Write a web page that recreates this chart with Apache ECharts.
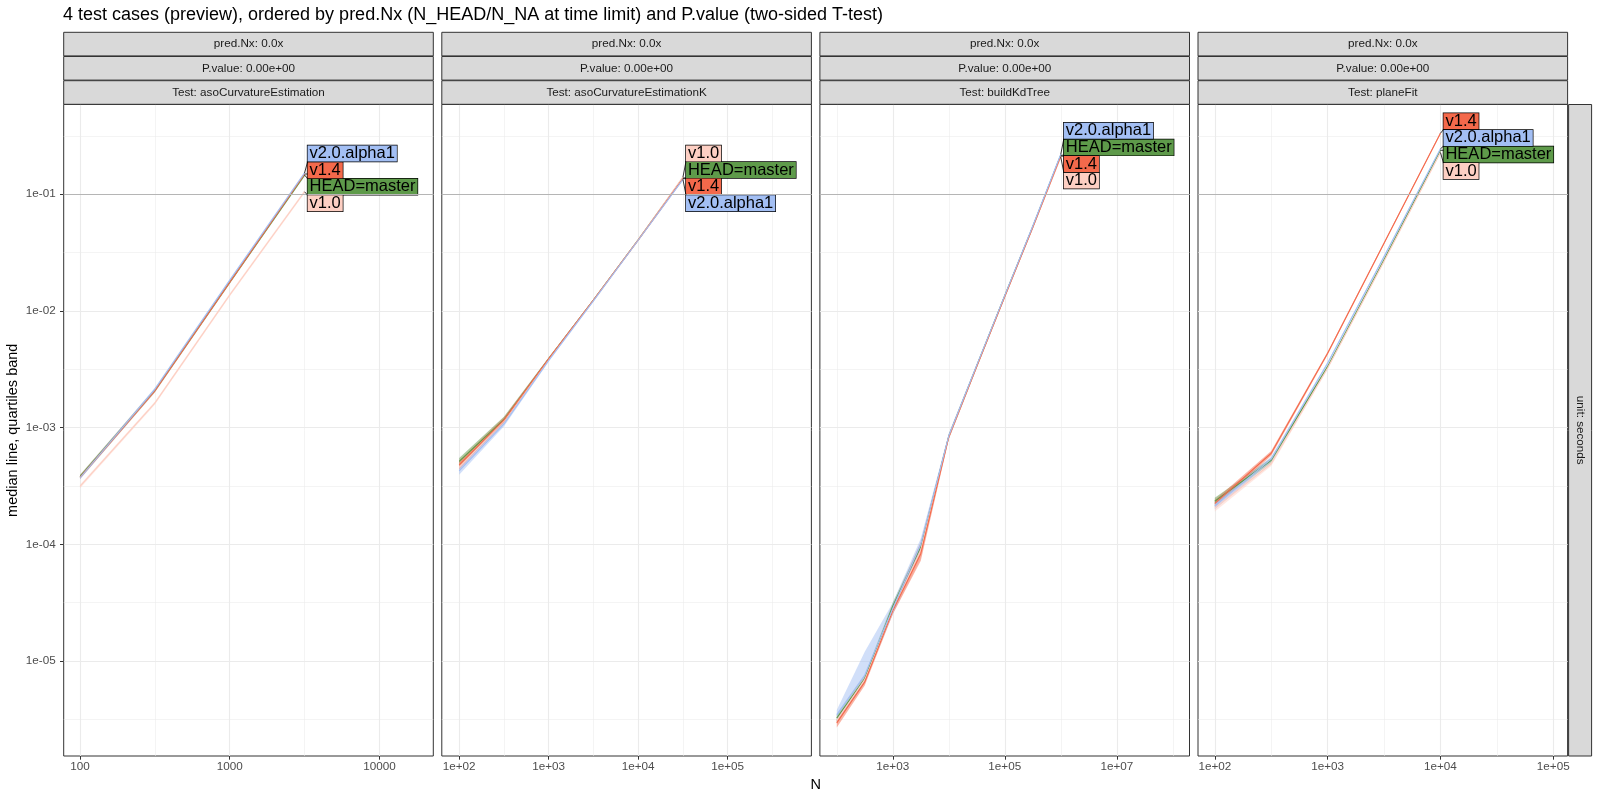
<!DOCTYPE html>
<html>
<head>
<meta charset="utf-8">
<title>benchmark preview</title>
<script src="https://cdn.jsdelivr.net/npm/echarts@6/dist/echarts.min.js"></script>
<style>
  html, body { margin: 0; padding: 0; background: #fff; }
  #chart { width: 1600px; height: 800px; }
</style>
</head>
<body>
<div id="chart"></div>
<script>
// ---- data ----------------------------------------------------------------
var versions = ["HEAD=master", "v1.0", "v1.4", "v2.0.alpha1"];
var versionColors = ["#5e9a4a", "#fdcfc3", "#f4694b", "#a3bff4"];
var tests = ["asoCurvatureEstimation", "asoCurvatureEstimationK", "buildKdTree", "planeFit"];

// rows follow `versions`; values are seconds
var asoN = [100, 316, 1000, 3162];
var asoMed = [
    [3.80e-4, 2.08e-3, 1.76e-2, 0.146],
    [3.13e-4, 1.62e-3, 1.37e-2, 0.105],
    [3.75e-4, 2.07e-3, 1.76e-2, 0.149],
    [3.72e-4, 2.13e-3, 1.83e-2, 0.152]
];
var asoLo = [
    [3.65e-4, 2.01e-3, 1.71e-2, 0.142],
    [3.02e-4, 1.57e-3, 1.33e-2, 0.102],
    [3.62e-4, 2.00e-3, 1.71e-2, 0.145],
    [3.59e-4, 2.06e-3, 1.78e-2, 0.148]
];
var asoHi = [
    [3.95e-4, 2.15e-3, 1.81e-2, 0.150],
    [3.24e-4, 1.67e-3, 1.41e-2, 0.108],
    [3.88e-4, 2.14e-3, 1.81e-2, 0.153],
    [3.85e-4, 2.20e-3, 1.88e-2, 0.156]
];

var asoKN = [100, 316, 1000, 3162, 10000, 31623];
var asoKMed = [
    [5.13e-4, 1.170e-3, 3.89e-3, 1.24e-2, 4.07e-2, 0.138],
    [4.57e-4, 1.135e-3, 3.85e-3, 1.23e-2, 4.06e-2, 0.140],
    [4.79e-4, 1.160e-3, 3.89e-3, 1.24e-2, 4.05e-2, 0.136],
    [4.27e-4, 1.070e-3, 3.76e-3, 1.22e-2, 4.03e-2, 0.134]
];
var asoKLo = [
    [4.70e-4, 1.10e-3, 3.80e-3, 1.22e-2, 4.00e-2, 0.135],
    [4.20e-4, 1.08e-3, 3.76e-3, 1.21e-2, 3.99e-2, 0.137],
    [4.40e-4, 1.10e-3, 3.80e-3, 1.22e-2, 3.98e-2, 0.133],
    [3.95e-4, 1.02e-3, 3.67e-3, 1.20e-2, 3.96e-2, 0.131]
];
var asoKHi = [
    [5.50e-4, 1.24e-3, 3.98e-3, 1.26e-2, 4.14e-2, 0.141],
    [4.95e-4, 1.19e-3, 3.94e-3, 1.25e-2, 4.13e-2, 0.143],
    [5.20e-4, 1.22e-3, 3.98e-3, 1.26e-2, 4.12e-2, 0.139],
    [4.60e-4, 1.12e-3, 3.85e-3, 1.24e-2, 4.10e-2, 0.137]
];

var kdN = [100, 316, 1000, 3162, 10000, 31623, 100000, 316228, 1000000];
var kdMed = [
    [3.24e-6, 7.08e-6, 2.95e-5, 9.55e-5, 8.41e-4, 3.39e-3, 1.35e-2, 5.27e-2, 0.216],
    [3.09e-6, 6.92e-6, 2.69e-5, 8.91e-5, 8.32e-4, 3.35e-3, 1.33e-2, 5.19e-2, 0.208],
    [2.95e-6, 6.61e-6, 2.69e-5, 8.32e-5, 8.32e-4, 3.35e-3, 1.33e-2, 5.21e-2, 0.212],
    [3.47e-6, 7.59e-6, 2.82e-5, 1.00e-4, 8.51e-4, 3.43e-3, 1.36e-2, 5.35e-2, 0.220]
];
var kdLo = [
    [3.02e-6, 6.61e-6, 2.75e-5, 8.91e-5, 8.04e-4, 3.28e-3, 1.31e-2, 5.12e-2, 0.210],
    [2.88e-6, 6.46e-6, 2.51e-5, 7.59e-5, 7.94e-4, 3.24e-3, 1.29e-2, 5.04e-2, 0.202],
    [2.69e-6, 6.17e-6, 2.51e-5, 7.24e-5, 7.94e-4, 3.24e-3, 1.29e-2, 5.06e-2, 0.206],
    [3.02e-6, 6.76e-6, 2.51e-5, 8.91e-5, 8.13e-4, 3.31e-3, 1.32e-2, 5.20e-2, 0.214]
];
var kdHi = [
    [3.47e-6, 7.59e-6, 3.16e-5, 1.02e-4, 8.80e-4, 3.50e-3, 1.39e-2, 5.42e-2, 0.222],
    [3.31e-6, 7.41e-6, 2.88e-5, 1.00e-4, 8.71e-4, 3.46e-3, 1.37e-2, 5.34e-2, 0.214],
    [3.16e-6, 7.24e-6, 2.95e-5, 1.05e-4, 8.71e-4, 3.46e-3, 1.37e-2, 5.36e-2, 0.218],
    [3.80e-6, 1.20e-5, 3.16e-5, 1.12e-4, 8.91e-4, 3.55e-3, 1.40e-2, 5.50e-2, 0.226]
];

var planeN = [100, 316, 1000, 3162, 10000];
var planeMed = [
    [2.34e-4, 5.25e-4, 3.33e-3, 2.74e-2, 0.238],
    [2.04e-4, 4.90e-4, 3.24e-3, 2.66e-2, 0.228],
    [2.24e-4, 6.03e-4, 4.34e-3, 3.80e-2, 0.333],
    [2.14e-4, 5.37e-4, 3.56e-3, 2.92e-2, 0.245]
];
var planeLo = [
    [2.19e-4, 4.98e-4, 3.24e-3, 2.68e-2, 0.233],
    [1.91e-4, 4.68e-4, 3.15e-3, 2.60e-2, 0.223],
    [2.09e-4, 5.75e-4, 4.22e-3, 3.72e-2, 0.327],
    [2.00e-4, 5.10e-4, 3.46e-3, 2.85e-2, 0.240]
];
var planeHi = [
    [2.51e-4, 5.50e-4, 3.42e-3, 2.80e-2, 0.243],
    [2.19e-4, 5.13e-4, 3.33e-3, 2.72e-2, 0.233],
    [2.40e-4, 6.31e-4, 4.47e-3, 3.89e-2, 0.340],
    [2.29e-4, 5.62e-4, 3.66e-3, 2.99e-2, 0.250]
];

// tick marks (N) and their labels
var asoTicks = [100, 1000, 10000];
var asoTickLabels = ["100", "1000", "10000"];
var asoMinor = [316.23, 3162.3];
var asoKTicks = [1e2, 1e3, 1e4, 1e5];
var asoKTickLabels = ["1e+02", "1e+03", "1e+04", "1e+05"];
var asoKMinor = [316.23, 3162.3, 31623, 316228];
var kdTicks = [1e3, 1e5, 1e7];
var kdTickLabels = ["1e+03", "1e+05", "1e+07"];
var kdMinor = [1e2, 1e4, 1e6, 1e8];
var planeTicks = [1e2, 1e3, 1e4, 1e5];
var planeTickLabels = ["1e+02", "1e+03", "1e+04", "1e+05"];
var planeMinor = [316.23, 3162.3, 31623];

var yTicks = [1e-5, 1e-4, 1e-3, 1e-2, 1e-1];
var yTickLabels = ["1e-05", "1e-04", "1e-03", "1e-02", "1e-01"];
var yMinor = [3.1623e-6, 3.1623e-5, 3.1623e-4, 3.1623e-3, 3.1623e-2, 0.31623];
var timeLimit = 0.1;

// ---- layout ----------------------------------------------------------------
var FONT = '"Liberation Sans", Arial, Helvetica, sans-serif';
var panelLeft = [63.7, 441.8, 819.9, 1198.0];
var panelW = 369.6;
var plotTop = 104.5;
var plotH = 651.5;
var stripTops = [32.3, 56.5, 80.7];
var stripH = 23.6;
var xRanges = [[1.891, 4.36], [1.806, 5.935], [1.699, 8.298], [1.851, 5.127]];
var yRange = [-5.814, -0.231];
var LABEL_STEP = 16.6;

var lg = Math.log10;

var panels = [
    { n: asoN, med: asoMed, lo: asoLo, hi: asoHi, ticks: asoTicks, labels: asoTickLabels, minor: asoMinor },
    { n: asoKN, med: asoKMed, lo: asoKLo, hi: asoKHi, ticks: asoKTicks, labels: asoKTickLabels, minor: asoKMinor },
    { n: kdN, med: kdMed, lo: kdLo, hi: kdHi, ticks: kdTicks, labels: kdTickLabels, minor: kdMinor },
    { n: planeN, med: planeMed, lo: planeLo, hi: planeHi, ticks: planeTicks, labels: planeTickLabels, minor: planeMinor }
];

function labelFor(values, labels) {
    return function (v) {
        for (var k = 0; k < values.length; k++) {
            if (Math.abs(lg(values[k]) - v) < 1e-6) return labels[k];
        }
        return "";
    };
}

// polygon between lo and hi for one version, drawn once per series
function bandRenderer(color) {
    return function (params, api) {
        if (params.dataIndex !== 0) return;
        var n = params.dataInsideLength, top = [], bottom = [];
        for (var k = 0; k < n; k++) {
            var x = api.value(0, k);
            top.push(api.coord([x, api.value(2, k)]));
            bottom.unshift(api.coord([x, api.value(1, k)]));
        }
        return {
            type: "polygon",
            shape: { points: top.concat(bottom) },
            style: { fill: color, opacity: 0.5 },
            silent: true
        };
    };
}

var chart = echarts.init(document.getElementById("chart"));

var grids = [], xAxes = [], yAxes = [], series = [], lineIdx = [];

panels.forEach(function (p, i) {
    grids.push({
        left: panelLeft[i], top: plotTop, width: panelW, height: plotH,
        show: true, borderColor: "#333333", borderWidth: 1, backgroundColor: "rgba(0,0,0,0)"
    });
    var tx = p.ticks.map(lg), mx = p.minor.map(lg);
    xAxes.push({
        type: "value", gridIndex: i, min: xRanges[i][0], max: xRanges[i][1],
        axisLine: { show: false },
        axisTick: { show: true, customValues: tx, length: 3.7, lineStyle: { color: "#333333", width: 1 } },
        axisLabel: {
            show: true, customValues: tx, formatter: labelFor(p.ticks, p.labels),
            color: "#4d4d4d", fontSize: 11.7, fontFamily: FONT, margin: 5
        },
        splitLine: { show: true, lineStyle: { color: "#ebebeb", width: 1.1 } }
    });
    xAxes.push({
        type: "value", gridIndex: i, min: xRanges[i][0], max: xRanges[i][1],
        axisLine: { show: false },
        axisTick: { show: false, customValues: mx },
        axisLabel: { show: false },
        splitLine: { show: true, lineStyle: { color: "#ebebeb", width: 0.55 } }
    });
    var ty = yTicks.map(lg), my = yMinor.map(lg);
    yAxes.push({
        type: "value", gridIndex: i, min: yRange[0], max: yRange[1],
        axisLine: { show: false },
        axisTick: { show: i === 0, customValues: ty, length: 3.7, lineStyle: { color: "#333333", width: 1 } },
        axisLabel: {
            show: i === 0, customValues: ty, formatter: labelFor(yTicks, yTickLabels),
            color: "#4d4d4d", fontSize: 11.7, fontFamily: FONT, margin: 8
        },
        splitLine: { show: true, lineStyle: { color: "#ebebeb", width: 1.1 } }
    });
    yAxes.push({
        type: "value", gridIndex: i, min: yRange[0], max: yRange[1],
        axisLine: { show: false },
        axisTick: { show: false, customValues: my },
        axisLabel: { show: false },
        splitLine: { show: true, lineStyle: { color: "#ebebeb", width: 0.55 } }
    });

    // quartile bands
    versions.forEach(function (ver, v) {
        var s = {
            type: "custom", xAxisIndex: 2 * i, yAxisIndex: 2 * i,
            data: p.n.map(function (n, k) { return [lg(n), lg(p.lo[v][k]), lg(p.hi[v][k])]; }),
            encode: { x: 0, y: [1, 2] },
            renderItem: bandRenderer(versionColors[v]),
            silent: true, animation: false, z: 2
        };
        if (v === 0) {
            s.markLine = {
                silent: true, symbol: "none", animation: false,
                label: { show: false },
                lineStyle: { color: "#b5b5b5", width: 1.2, type: "solid" },
                data: [{ yAxis: lg(timeLimit) }]
            };
        }
        series.push(s);
    });

    // median lines
    lineIdx.push([]);
    versions.forEach(function (ver, v) {
        lineIdx[i].push(series.length);
        series.push({
            type: "line", xAxisIndex: 2 * i, yAxisIndex: 2 * i,
            data: p.n.map(function (n, k) { return [lg(n), lg(p.med[v][k])]; }),
            symbol: "none", silent: true, animation: false, z: 3,
            lineStyle: { color: versionColors[v], width: 1.1 },
            endLabel: {
                show: true, formatter: ver, color: "#000", fontSize: 16.5, fontFamily: FONT,
                backgroundColor: versionColors[v], borderColor: "#000", borderWidth: 0.7,
                padding: [1, 2, 0, 2], lineHeight: 15, distance: 3, offset: [0, 0]
            }
        });
    });
});

chart.setOption({
    animation: false,
    backgroundColor: "#ffffff",
    title: {
        text: "4 test cases (preview), ordered by pred.Nx (N_HEAD/N_NA at time limit) and P.value (two-sided T-test)",
        left: 63, top: 5, padding: 0,
        textStyle: { color: "#000", fontWeight: "normal", fontSize: 18, fontFamily: FONT, lineHeight: 20 }
    },
    grid: grids,
    xAxis: xAxes,
    yAxis: yAxes,
    series: series
});

// ---- repelled labels, strips and axis titles ---------------------------------
var graphics = [];
panels.forEach(function (p, i) {
    var last = p.n.length - 1;
    var ends = versions.map(function (ver, v) {
        var pt = chart.convertToPixel({ seriesIndex: lineIdx[i][v] }, [lg(p.n[last]), lg(p.med[v][last])]);
        return { v: v, x: pt[0], y: pt[1], val: p.med[v][last] };
    });
    var meanY = ends.reduce(function (a, e) { return a + e.y; }, 0) / ends.length;
    ends.slice().sort(function (a, b) { return b.val - a.val; }).forEach(function (e, r) {
        var cy = meanY + (r - 1.5) * LABEL_STEP;
        series[lineIdx[i][e.v]].endLabel.offset = [0, cy - e.y];
        var ty = Math.max(cy - LABEL_STEP / 2, Math.min(cy + LABEL_STEP / 2, e.y));
        graphics.push({
            type: "line", z: 100, silent: true,
            shape: { x1: e.x, y1: e.y, x2: e.x + 3, y2: ty },
            style: { stroke: "#000", lineWidth: 0.8 }
        });
    });

    var stripTexts = ["pred.Nx: 0.0x", "P.value: 0.00e+00", "Test: " + tests[i]];
    stripTexts.forEach(function (t, k) {
        graphics.push({
            type: "rect", silent: true,
            shape: { x: panelLeft[i], y: stripTops[k], width: panelW, height: stripH },
            style: { fill: "#d9d9d9", stroke: "#333333", lineWidth: 1 }
        });
        graphics.push({
            type: "text", silent: true,
            x: panelLeft[i] + panelW / 2, y: stripTops[k] + stripH / 2,
            style: { text: t, fill: "#1a1a1a", fontSize: 11.7, fontFamily: FONT, align: "center", verticalAlign: "middle" }
        });
    });
});

// right strip
var rsX = panelLeft[3] + panelW + 1;
graphics.push({
    type: "rect", silent: true,
    shape: { x: rsX, y: plotTop, width: 23, height: plotH },
    style: { fill: "#d9d9d9", stroke: "#333333", lineWidth: 1 }
});
graphics.push({
    type: "text", silent: true,
    x: rsX + 11.5, y: plotTop + plotH / 2, rotation: -Math.PI / 2,
    style: { text: "unit: seconds", fill: "#1a1a1a", fontSize: 11.7, fontFamily: FONT, align: "center", verticalAlign: "middle" }
});
// axis titles
graphics.push({
    type: "text", silent: true,
    x: 13.3, y: plotTop + plotH / 2, rotation: Math.PI / 2,
    style: { text: "median line, quartiles band", fill: "#000", fontSize: 14.5, fontFamily: FONT, align: "center", verticalAlign: "middle" }
});
graphics.push({
    type: "text", silent: true,
    x: (panelLeft[0] + panelLeft[3] + panelW) / 2, y: 785,
    style: { text: "N", fill: "#000", fontSize: 14.5, fontFamily: FONT, align: "center", verticalAlign: "middle" }
});

chart.setOption({ series: series, graphic: graphics });
</script>
</body>
</html>
